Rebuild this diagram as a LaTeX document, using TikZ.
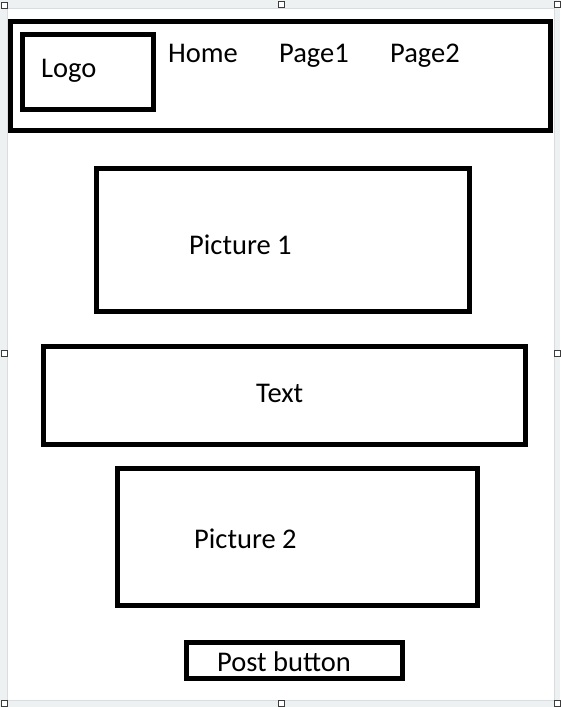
\documentclass[tikz,border=0pt]{standalone}
\usepackage{fontspec}
\setmainfont{Carlito}
\definecolor{bggrey}{HTML}{EEF1F2}
\definecolor{edgegrey}{HTML}{DADDE0}
\definecolor{handle}{HTML}{3C3C3C}
\begin{document}
\begin{tikzpicture}[x=1pt,y=-1pt,
  frame/.style={draw=black,line width=5pt},
  label/.style={anchor=base west,inner sep=0pt,font=\fontsize{28.5}{31}\selectfont},
  handlebox/.style={draw=handle,fill=white,line width=0.8pt,minimum size=6pt,inner sep=0pt}]
\useasboundingbox (0,0) rectangle (560,707);
\fill[bggrey] (0,0) rectangle (560,707);
\fill[white] (7,8) rectangle (554,700);
\draw[edgegrey,line width=0.8pt] (7,8) rectangle (554,700);
% header
\draw[frame] (10.5,21.5) rectangle (550.5,130);
\draw[frame] (22.5,34.5) rectangle (153.5,109.5);
\node[label] (logo) at (41,77) {Logo};
\node[label] (home) at (168,62) {Home};
\node[label] (page1) at (279,62) {Page1};
\node[label] (page2) at (390,62) {Page2};
% picture 1
\draw[frame] (96.5,168.5) rectangle (469.5,311.5);
\node[label] (pic1) at (189,254) {Picture 1};
% text
\draw[frame] (43.5,346.5) rectangle (525.5,444.5);
\node[label] (txt) at (256,402) {Text};
% picture 2
\draw[frame] (117.5,468.5) rectangle (477.5,605.5);
\node[label] (pic2) at (194,548) {Picture 2};
% post button
\draw[frame,line width=4.5pt] (186.5,642.5) rectangle (402.5,678.5);
\node[label] (post) at (217,671) {Post button};
% selection handles
\foreach \n/\x/\y in {h1/4/5,h2/281/4,h3/557/4,h4/4/353,h5/557/353,h6/4/703,h7/281/703,h8/557/703}
  \node[handlebox] (\n) at (\x,\y) {};
\end{tikzpicture}
\end{document}
